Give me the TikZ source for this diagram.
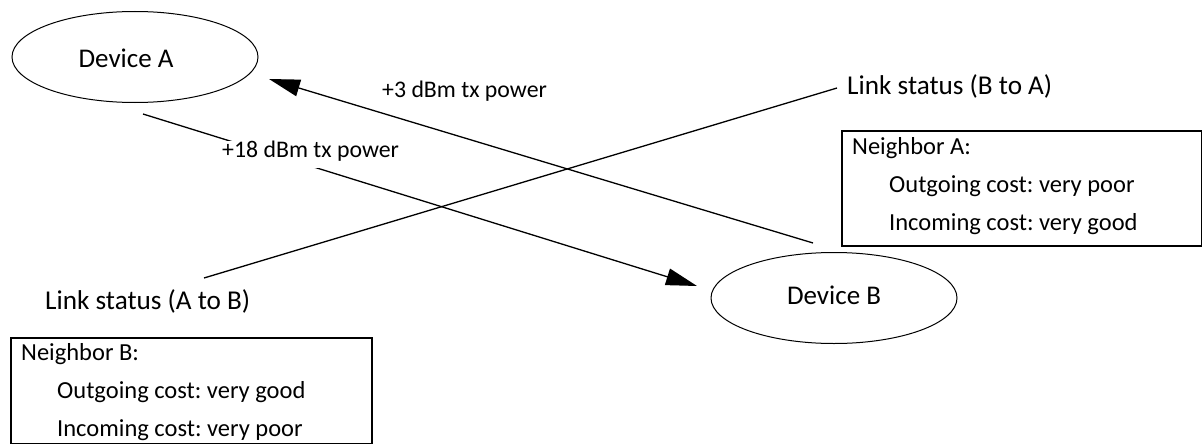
\documentclass[tikz,border=0pt]{standalone}
\usepackage{fontspec}
\setmainfont{Carlito}
\frenchspacing
\usetikzlibrary{shapes.geometric,arrows.meta}
\tikzset{
  txt/.style={inner sep=0pt, font=\fontsize{24.5}{30}\selectfont},
  lbltxt/.style={inner sep=0pt, font=\fontsize{23.8}{29}\selectfont},
  bigtxt/.style={inner sep=0pt, font=\fontsize{27.2}{33}\selectfont},
  devtxt/.style={inner sep=0pt, font=\fontsize{27}{33}\selectfont},
  dev/.style={draw, ellipse, line width=1pt, minimum width=246pt, minimum height=91pt, inner sep=0pt},
  conn/.style={line width=1.3pt},
  arr/.style={conn, -{Triangle[length=31pt,width=17pt]}},
  infobox/.style={draw, line width=2pt}
}
\begin{document}
\begin{tikzpicture}[x=1pt,y=-1pt]
\useasboundingbox (0,0) rectangle (1202,444);
% devices
\node[dev] (A) at (135,57) {};
\node[devtxt, anchor=base] (Atxt) at (126,67) {Device A};
\node[dev] (B) at (834,298) {};
\node[devtxt, anchor=base] (Btxt) at (834,304) {Device B};
% connector end points
\coordinate (a18s) at (143,114);
\coordinate (a18e) at (697,286);
\coordinate (a3s) at (813,243);
\coordinate (a3e) at (269,79);
\coordinate (lks) at (204,278);
\coordinate (lke) at (837,88);
% connectors
\draw[arr] (a18s) -- (a18e);
\draw[arr] (a3s) -- (a3e);
\draw[conn] (lks) -- (lke);
% labels
\node[lbltxt, anchor=base west, fill=white, text height=16pt, text depth=11pt] (l18) at (222,157) {+18 dBm tx power};
\node[lbltxt, anchor=base west] (l3) at (382,97) {+3 dBm tx power};
\node[bigtxt, anchor=base west] (lBA) at (847,94) {Link status (B to A)};
\node[bigtxt, anchor=base west] (lAB) at (45,309) {Link status (A to B)};
% info box A
\node[infobox, anchor=north west, minimum width=360pt, minimum height=115pt] (boxA) at (841,130) {};
\node[txt, anchor=base west] (nA) at (852,154) {Neighbor A:};
\node[txt, anchor=base west] (nAo) at (889,192) {Outgoing cost: very poor};
\node[txt, anchor=base west] (nAi) at (889,230) {Incoming cost: very good};
% info box B
\node[infobox, anchor=north west, minimum width=361pt, minimum height=106pt] (boxB) at (10,337) {};
\node[txt, anchor=base west] (nB) at (21,360) {Neighbor B:};
\node[txt, anchor=base west] (nBo) at (57,398) {Outgoing cost: very good};
\node[txt, anchor=base west] (nBi) at (57,436) {Incoming cost: very poor};
\end{tikzpicture}
\end{document}
